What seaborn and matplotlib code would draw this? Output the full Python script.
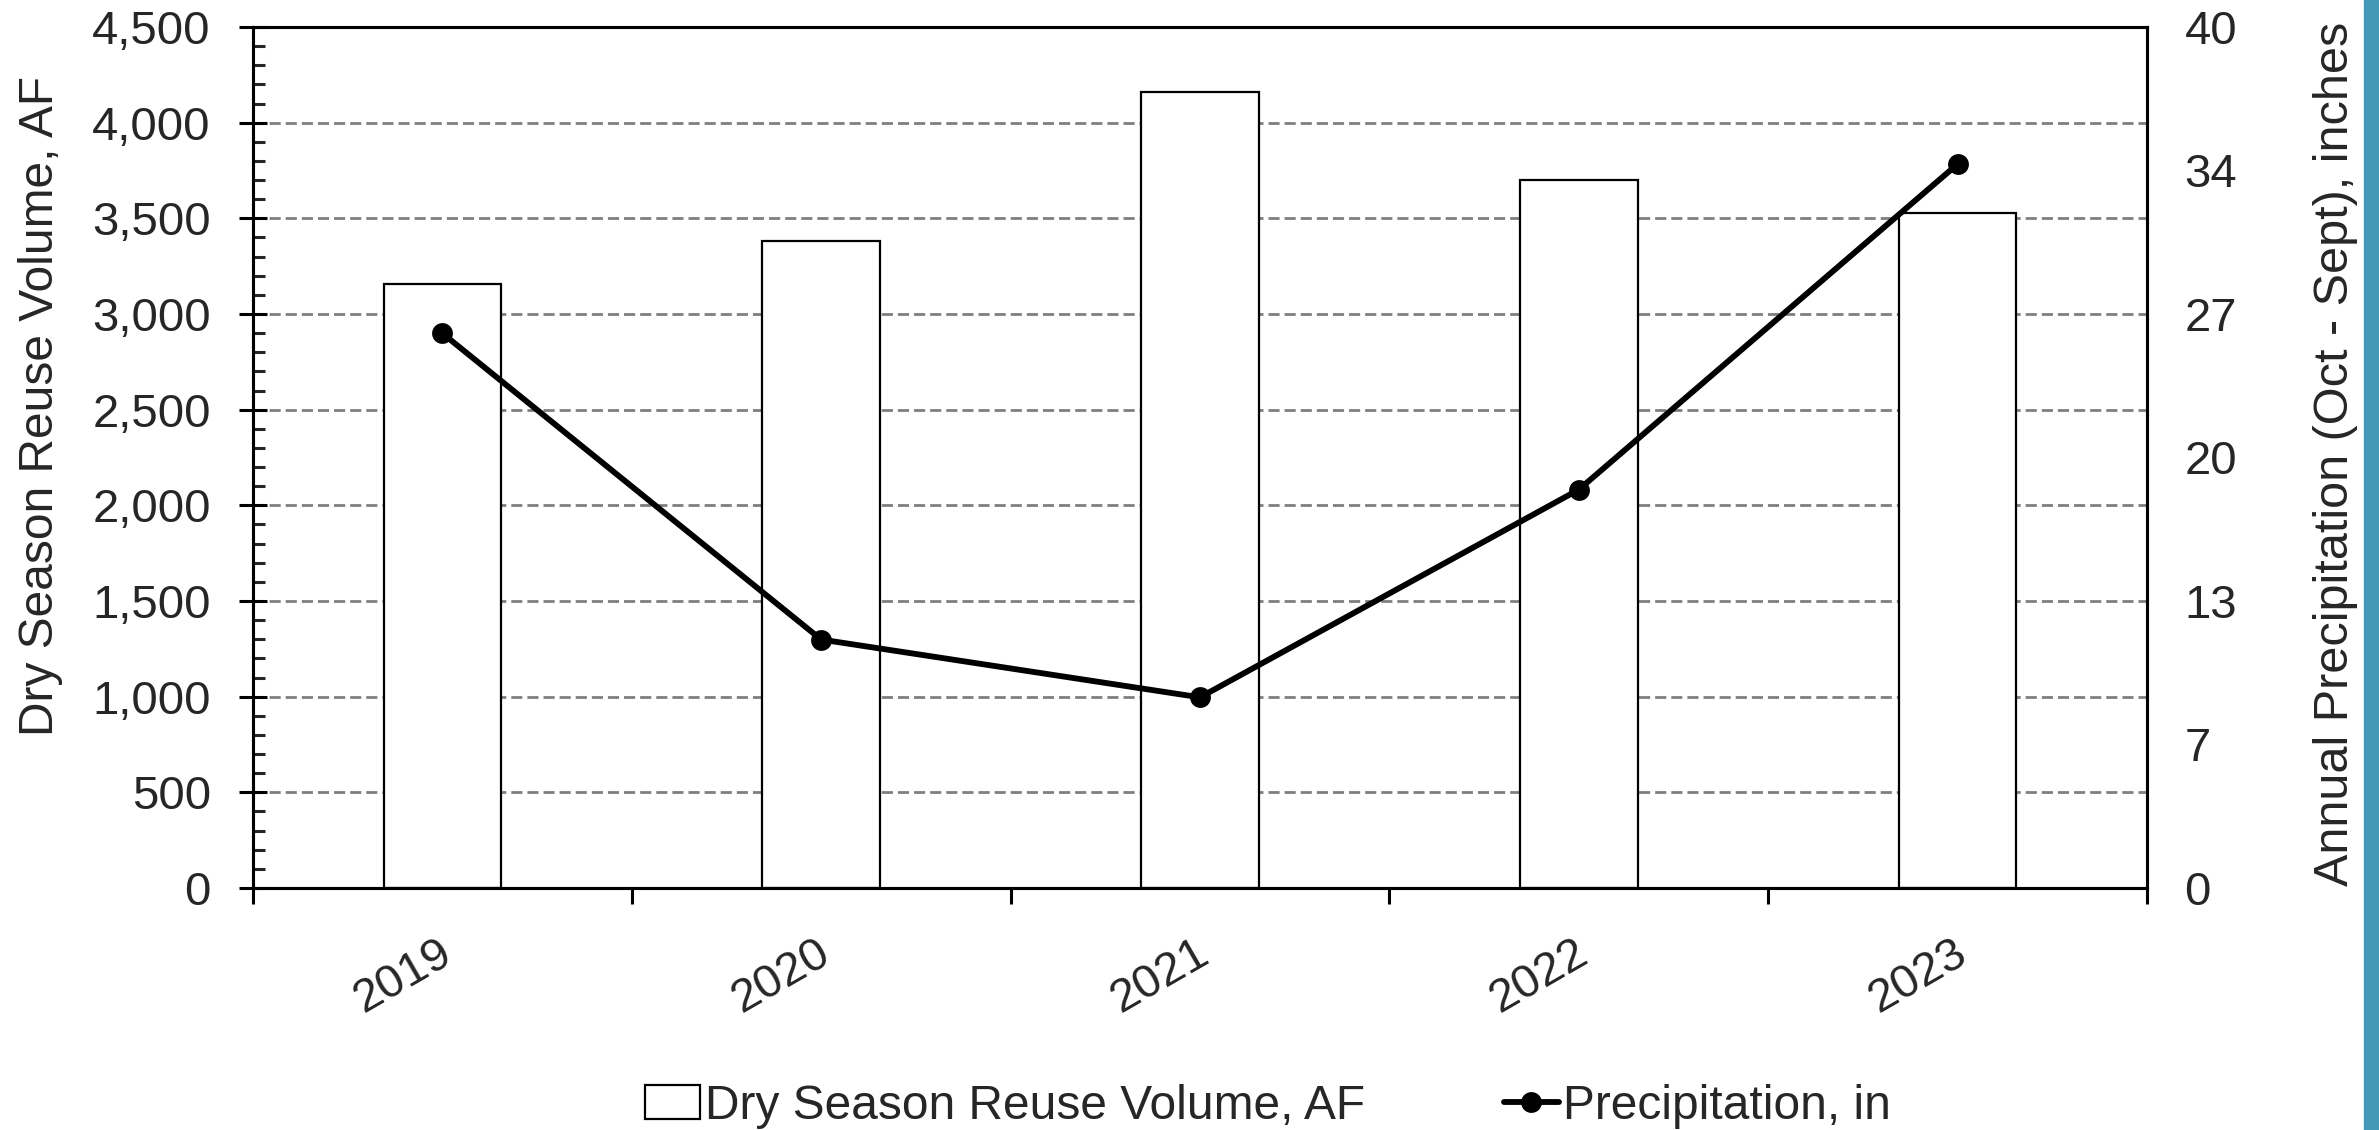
import numpy as np
import pandas as pd
import seaborn as sns
import matplotlib.pyplot as plt
from matplotlib.patches import Rectangle
from matplotlib.ticker import FuncFormatter, MultipleLocator
from matplotlib.transforms import ScaledTranslation

# Datos
years = ["2019", "2020", "2021", "2022", "2023"]
reuse_af = [3155, 3380, 4160, 3698, 3526]
precip_in = [25.9, 11.6, 8.9, 18.6, 33.8]

df = pd.DataFrame({"year": years, "reuse": reuse_af, "precip": precip_in})

sns.set_style("white")
plt.rcParams["font.family"] = ["Liberation Sans", "DejaVu Sans"]

fig = plt.figure(figsize=(23.79, 11.30), dpi=100)
ax = fig.add_axes([0.1063, 0.2142, 0.7962, 0.7619])
ax2 = ax.twinx()

# Barras de volumen
sns.barplot(data=df, x="year", y="reuse", color="white", saturation=1,
            edgecolor="black", linewidth=1.6, width=0.31, ax=ax,
            label="Dry Season Reuse Volume, AF", zorder=2)

# Linea de precipitacion
sns.lineplot(data=df, x="year", y="precip", color="black", linewidth=4.2,
             marker="o", markersize=15, markeredgewidth=0, ax=ax2,
             label="Precipitation, in", sort=False)

ax.set_xlim(-0.5, 4.5)
ax.set_ylim(0, 4500)
ax2.set_ylim(0, 40.2)

# Eje izquierdo
ax.yaxis.set_major_locator(MultipleLocator(500))
ax.yaxis.set_minor_locator(MultipleLocator(100))
ax.yaxis.set_major_formatter(FuncFormatter(lambda v, p: f"{v:,.0f}"))
ax.tick_params(axis="y", which="major", direction="inout", length=19.5,
               width=2.2, pad=20.5, labelsize=34, color="black", left=True)
ax.tick_params(axis="y", which="minor", direction="in", length=8.5,
               width=2.2, left=True)
ax.grid(axis="y", which="major", color="#7f7f7f", linestyle=(0, (4, 1.8)),
        linewidth=2, zorder=0)
ax.set_axisbelow(True)

# Eje x: marcas entre categorias, etiquetas en el centro
ax.set_xticks(np.arange(-0.5, 5, 1))
ax.set_xticklabels([])
ax.set_xticks(np.arange(len(years)), minor=True)
ax.set_xticklabels(years, minor=True, rotation=30, ha="right", va="baseline",
                   rotation_mode="anchor", fontsize=34)
ax.tick_params(axis="x", which="major", direction="out", length=11.5,
               width=2.2, bottom=True, color="black")
ax.tick_params(axis="x", which="minor", length=0, pad=52)
ax.set_xlabel("")
shift = ScaledTranslation(0.12, 0, fig.dpi_scale_trans)
for lab in ax.get_xticklabels(minor=True):
    lab.set_transform(lab.get_transform() + shift)

# Eje derecho
ax2.set_yticks(np.arange(0, 40.3, 6.7))
ax2.yaxis.set_major_formatter(FuncFormatter(lambda v, p: f"{int(v + 0.5)}"))
ax2.tick_params(axis="y", length=0, pad=27, labelsize=34)
ax2.grid(False)

ax.set_ylabel("Dry Season Reuse Volume, AF", fontsize=34.5)
ax.yaxis.set_label_coords(-0.1005, 0.56)
ax2.set_ylabel("Annual Precipitation (Oct - Sept), inches", fontsize=35,
               rotation=90)
ax2.yaxis.set_label_coords(1.0876, 0.504)

for a in (ax, ax2):
    for s in a.spines.values():
        s.set_color("black")
        s.set_linewidth(2.2)

# Leyenda
h1, l1 = ax.get_legend_handles_labels()
h2, l2 = ax2.get_legend_handles_labels()
if ax2.get_legend():
    ax2.get_legend().remove()
if ax.get_legend():
    ax.get_legend().remove()
fig.legend(h1 + h2, l1 + l2, loc="center", bbox_to_anchor=(0.533, 0.021),
           ncol=2, frameon=False, fontsize=34.5, handlelength=1.15,
           handletextpad=0.1, columnspacing=2.9, borderpad=0.1)

# Franja de color a la derecha
fig.add_artist(Rectangle((2364 / 2379, 0), 15 / 2379, 1,
                         transform=fig.transFigure, color="#4499b8"))

plt.savefig("out.png", dpi=100)
